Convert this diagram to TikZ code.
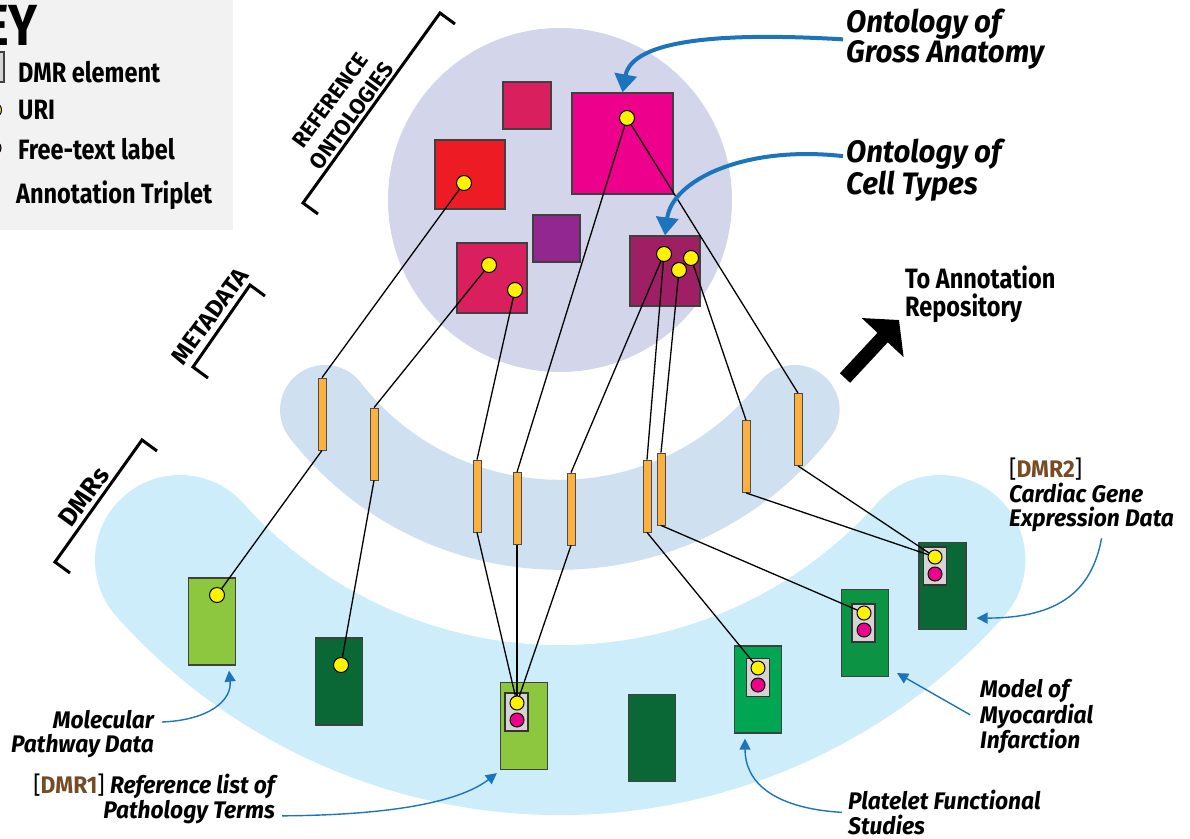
\documentclass[tikz,border=0pt]{standalone}
\usepackage{fontspec}
\setmainfont{Fira Sans}
\newfontfamily\condfont[FakeStretch=0.84]{Fira Sans}
\newfontfamily\labfont[FakeStretch=0.95]{Fira Sans}
\usetikzlibrary{arrows.meta,calc}

\definecolor{lav}{HTML}{D3D6EA}
\definecolor{metab}{HTML}{CFE0F1}
\definecolor{dmrb}{HTML}{CCEDF9}
\definecolor{keybg}{HTML}{F2F2F2}
\definecolor{ored}{HTML}{ED1C24}
\definecolor{ocrim}{HTML}{DA1F5E}
\definecolor{omag}{HTML}{EC008C}
\definecolor{opurp}{HTML}{92278F}
\definecolor{oplum}{HTML}{9E1F63}
\definecolor{barc}{HTML}{FBB040}
\definecolor{glight}{HTML}{8DC63F}
\definecolor{gdark}{HTML}{0A6837}
\definecolor{gmid}{HTML}{00A651}
\definecolor{gmidb}{HTML}{0C9444}
\definecolor{ann}{HTML}{1C75BC}
\definecolor{dmrtag}{HTML}{754C24}
\definecolor{dotY}{HTML}{FFF200}
\definecolor{dotM}{HTML}{EC008C}
\definecolor{tripbg}{HTML}{D4D4D4}

\begin{document}
\begin{tikzpicture}[x=1pt,y=-1pt,
  onto/.style={draw=black!75,line width=1.2pt,inner sep=0pt},
  uri/.style={circle,draw=black,line width=1pt,fill=dotY,inner sep=0pt,minimum size=15pt},
  ftl/.style={circle,draw=black,line width=1pt,fill=dotM,inner sep=0pt,minimum size=14pt},
  metabar/.style={draw=black!70,line width=0.8pt,fill=barc,inner sep=0pt,minimum width=8pt,minimum height=72pt},
  dmrbox/.style={draw=black!75,line width=1.2pt,inner sep=0pt,minimum width=47pt,minimum height=87pt},
  tripbox/.style={draw=black!80,line width=1.2pt,fill=tripbg,inner sep=0pt,minimum width=23pt,minimum height=38pt},
  linkline/.style={line width=1.3pt,black},
  brk/.style={line width=3pt,black},
  annthick/.style={ann,line width=4pt,-{Triangle[length=18pt,width=22pt]}},
  annthin/.style={ann,line width=1.4pt,-{Triangle[length=11pt,width=11pt]}},
  keytext/.style={anchor=base west,inner sep=0pt,font=\condfont\bfseries\fontsize{28}{28}\selectfont},
  lbl/.style={inner sep=0pt,font=\labfont\bfseries\itshape\fontsize{24}{24.5}\selectfont},
  biglbl/.style={inner sep=0pt,align=left,font=\labfont\bfseries\itshape\fontsize{31}{28}\selectfont},
  layerlbl/.style={inner sep=0pt,align=center,rotate=54}
]
\useasboundingbox (0,0) rectangle (1190,838);
\clip (0,0) rectangle (1190,838);

% ---- key panel ----
\fill[keybg] (-5,-5) rectangle (233,230);
\node[anchor=base east,inner sep=0pt,font=\condfont\bfseries\fontsize{58}{58}\selectfont] (keyttl) at (38,45) {KEY};
\node[draw=black!75,line width=1.2pt,fill=tripbg,inner sep=0pt,minimum width=22pt,minimum height=30pt] (keydmr) at (-7,67) {};
\node[uri] (keyuri) at (-6,110) {};
\node[ftl] (keyftl) at (-6,148) {};
\node[keytext] (kt1) at (18,82) {DMR element};
\node[keytext] (kt2) at (18,119) {URI};
\node[keytext] (kt3) at (18,159) {Free-text label};
\node[keytext] (kt4) at (16,203) {Annotation Triplet};

% ---- layer backgrounds ----
\draw[dmrb,line width=170pt,line cap=round] (180,560) arc[start angle=138.2,end angle=41.8,radius=510];
\draw[metab,line width=90pt,line cap=round] (325,410) arc[start angle=142.1,end angle=37.9,radius=297.6];
\fill[lav] (560,200) circle[radius=172];

% ---- reference ontologies ----
\node[onto,fill=ocrim,minimum width=48pt,minimum height=47pt] (sqA) at (527,105.5) {};
\node[onto,fill=omag,minimum width=101pt,minimum height=101pt] (sqB) at (622.5,143.5) {};
\node[onto,fill=ored,minimum width=70pt,minimum height=69pt] (sqC) at (470,174.5) {};
\node[onto,fill=opurp,minimum width=47pt,minimum height=47pt] (sqD) at (556.5,238.5) {};
\node[onto,fill=ocrim,minimum width=70pt,minimum height=70pt] (sqE) at (492,278) {};
\node[onto,fill=oplum,minimum width=70pt,minimum height=70pt] (sqF) at (665,271) {};

\node[uri] (dC) at (464,183) {};
\node[uri] (dE1) at (489,265) {};
\node[uri] (dE2) at (515,290) {};
\node[uri] (dB) at (627,118) {};
\node[uri] (dF1) at (664,254) {};
\node[uri] (dF2) at (691,258) {};
\node[uri] (dF3) at (679,270) {};

% ---- metadata bars ----
\node[metabar] (bA) at (322,414) {};
\node[metabar] (bB) at (374,444) {};
\node[metabar] (bC) at (477,496) {};
\node[metabar] (bD) at (517,508.5) {};
\node[metabar] (bE) at (571,509) {};
\node[metabar] (bF) at (647,496) {};
\node[metabar] (bG) at (661,489) {};
\node[metabar] (bH) at (746,456.5) {};
\node[metabar] (bI) at (798,429.5) {};

% ---- DMR elements ----
\node[dmrbox,fill=glight] (mA) at (212,621.5) {};
\node[dmrbox,fill=gdark] (mB) at (339,681.5) {};
\node[dmrbox,fill=glight] (mC) at (524,726) {};
\node[dmrbox,fill=gdark] (mD) at (652,738) {};
\node[dmrbox,fill=gmid] (mE) at (758,689.5) {};
\node[dmrbox,fill=gmidb] (mF) at (865,633) {};
\node[dmrbox,fill=gdark] (mG) at (942.5,586) {};

\node[uri] (dA) at (217,595) {};
\node[uri] (dMB) at (341,665) {};

\node[tripbox] (tC) at (516.5,712) {};
\node[uri,minimum size=14pt] (tCy) at (517,703) {};
\node[ftl] (tCm) at (517,720) {};
\node[tripbox] (tE) at (758,677.5) {};
\node[uri,minimum size=14pt] (tEy) at (758,668) {};
\node[ftl] (tEm) at (758,685) {};
\node[tripbox] (tF) at (863.5,623) {};
\node[uri,minimum size=14pt] (tFy) at (864,613) {};
\node[ftl] (tFm) at (864,630) {};
\node[tripbox] (tG) at (935,566) {};
\node[uri,minimum size=14pt] (tGy) at (935,557) {};
\node[ftl] (tGm) at (935,574) {};

% ---- annotation links ----
\draw[linkline] (dC) -- (bA.north);
\draw[linkline] (bA.south) -- (dA);
\draw[linkline] (dE1) -- (bB.north);
\draw[linkline] (bB.south) -- (dMB);
\draw[linkline] (dE2) -- (bC.north);
\draw[linkline] (bC.south) -- (tCy);
\draw[linkline] (dB) -- (bD.north);
\draw[linkline] (bD.south) -- (tCy);
\draw[linkline] (dB) -- (bI.north);
\draw[linkline] (bI.south) -- (tGy);
\draw[linkline] (dF1) -- (bE.north);
\draw[linkline] (bE.south) -- (tCy);
\draw[linkline] (dF1) -- (bF.north);
\draw[linkline] (bF.south) -- (tEy);
\draw[linkline] (dF3) -- (bG.north);
\draw[linkline] (bG.south) -- (tFy);
\draw[linkline] (dF2) -- (bH.north);
\draw[linkline] (bH.south) -- (tGy);

% ---- layer brackets ----
\draw[brk] (318,214) -- (303,203) -- (440,13) -- (455,24);
\draw[brk] (208,378) -- (193,367) -- (250,285) -- (265,296);
\draw[brk] (70,573) -- (55,562) -- (142,440) -- (157,451);
\node[layerlbl,font=\bfseries\fontsize{22}{26}\selectfont] (reflab) at (341,108) {REFERENCE\\ONTOLOGIES};
\node[layerlbl,font=\bfseries\fontsize{24}{24}\selectfont] (metalab) at (210,316) {METADATA};
\node[layerlbl,font=\bfseries\fontsize{26}{26}\selectfont] (dmrlab) at (84,497) {DMRs};

% ---- ontology labels ----
\node[biglbl,anchor=north west] (gross) at (846,9) {Ontology of\\Gross Anatomy};
\node[biglbl,anchor=north west] (cell) at (846,139) {Ontology of\\Cell Types};
\draw[annthick] ($(gross.west)+(-3,0)$) .. controls (720,32) and (632,40) .. (sqB.north);
\draw[annthick] ($(cell.west)+(-3,-14)$) .. controls (745,145) and (672,180) .. (sqF.north);

% ---- export arrow ----
\node[anchor=north west,inner sep=0pt,align=left,font=\condfont\bfseries\fontsize{28}{28}\selectfont] (repo) at (905,266) {To Annotation\\Repository};
\coordinate (expS) at (845,378);
\coordinate (expE) at (899,320);
\draw[line width=14pt,-{Triangle[length=24pt,width=56pt]}] (expS) -- (expE);

% ---- dataset labels ----
\node[lbl,align=left,anchor=north west] (dmr2lab) at (1009,458) {{\upshape\mdseries[}{\upshape\color{dmrtag}DMR2}{\upshape\mdseries]}\\Cardiac Gene\\Expression Data};
\node[lbl,align=left,anchor=north west] (model) at (980,679) {Model of\\Myocardial\\Infarction};
\node[lbl,align=left,anchor=north west] (plat) at (848,790) {Platelet Functional\\Studies};
\node[lbl,align=right,anchor=north east] (mol) at (154,710) {Molecular\\Pathway Data};
\node[lbl,align=right,anchor=north east] (path) at (275,774) {{\upshape\mdseries[}{\upshape\color{dmrtag}DMR1}{\upshape\mdseries]} Reference list of\\Pathology Terms};

\draw[annthin] ($(mol.north east)+(8,12)$) .. controls (210,720) and (232,700) .. ($(mA.south)+(17,5)$);
\draw[annthin] ($(path.south east)+(7,-8)$) .. controls (400,815) and (462,800) .. ($(mC.south west)+(-3,3)$);
\draw[annthin] ($(plat.west)+(-6,0)$) .. controls (770,808) and (745,780) .. ($(mE.south)+(-13,5)$);
\draw[annthin] ($(model.west)+(-10,-2)$) -- ($(mF.south east)+(8,-4)$);
\draw[annthin] ($(dmr2lab.south)+(10,6)$) .. controls (1092,590) and (1060,618) .. ($(mG.south east)+(10,-12)$);
\end{tikzpicture}
\end{document}
